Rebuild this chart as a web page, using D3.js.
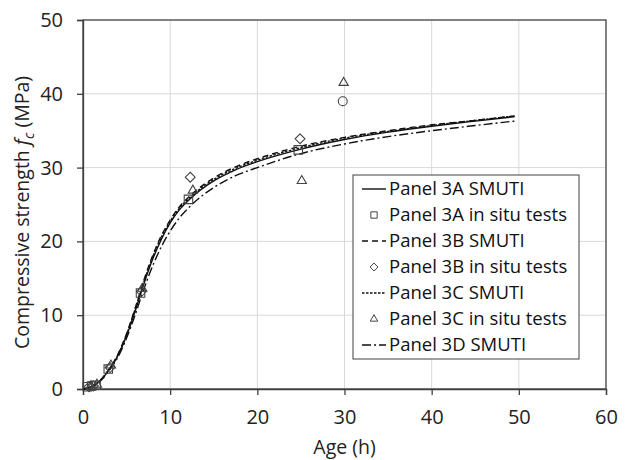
<!DOCTYPE html>
<html><head><meta charset="utf-8">
<script src="https://cdn.jsdelivr.net/npm/d3@7"></script>
<style>
html,body{margin:0;padding:0;background:#fff;}
svg{display:block;font-family:"Open Sans",sans-serif;}
</style></head>
<body><svg id="chart" width="627" height="460"></svg>
<script>
// ---- data ----
const xTicks = [0, 10, 20, 30, 40, 50, 60];
const yTicks = [0, 10, 20, 30, 40, 50];

const panel3A_smuti = [[0,0],[0.5,0.1],[1,0.35],[1.5,0.7],[2,1.2],[3,2.6],[4,4.5],[5,7.2],[6,10.6],[7,14.3],[8,17.6],[9,20.3],[10,22.5],[11,24.2],[12.5,26.0],[15,28.2],[17.5,29.7],[20,30.8],[25,32.5],[30,33.8],[35,34.8],[40,35.6],[45,36.3],[49.5,36.9]];
const panel3B_smuti = [[0,0],[0.5,0.1],[1,0.35],[1.5,0.7],[2,1.2],[3,2.7],[4,4.7],[5,7.5],[6,11.0],[7,14.8],[8,18.1],[9,20.8],[10,22.9],[11,24.6],[12.5,26.4],[15,28.6],[17.5,30.1],[20,31.2],[25,32.9],[30,34.1],[35,35.0],[40,35.8],[45,36.4],[49.5,37.0]];
const panel3C_smuti = [[0,0],[0.5,0.1],[1,0.35],[1.5,0.7],[2,1.2],[3,2.7],[4,4.6],[5,7.4],[6,10.9],[7,14.6],[8,17.9],[9,20.6],[10,22.7],[11,24.4],[12.5,26.2],[15,28.4],[17.5,29.9],[20,31.0],[25,32.7],[30,34.0],[35,34.9],[40,35.7],[45,36.4],[49.5,37.0]];
const panel3D_smuti = [[0,0],[0.5,0.1],[1,0.3],[1.5,0.6],[2,1.1],[3,2.5],[4,4.3],[5,6.9],[6,10.1],[7,13.6],[8,16.7],[9,19.3],[10,21.4],[11,23.1],[12.5,25.0],[15,27.3],[17.5,28.9],[20,30.0],[25,31.9],[30,33.2],[35,34.2],[40,35.0],[45,35.7],[49.5,36.3]];

const panel3A_insitu = [[0.5,0.3],[1,0.4],[1.5,0.5],[2.9,2.7],[6.6,13.0],[12.1,25.7],[24.7,32.4]];
const panel3B_insitu = [[0.7,0.3],[1.2,0.4],[3.1,2.9],[6.7,13.2],[12.3,28.7],[24.9,33.9]];
const panel3C_insitu = [[0.9,0.4],[1.6,0.6],[3.2,3.2],[6.8,13.6],[12.6,26.9],[25.1,28.2],[29.9,41.5]];
const panel3D_insitu = [[29.8,39.0]];

const lineSeries = [
  {name:"Panel 3A SMUTI", data:panel3A_smuti, dash:null},
  {name:"Panel 3B SMUTI", data:panel3B_smuti, dash:"6,4"},
  {name:"Panel 3C SMUTI", data:panel3C_smuti, dash:"2.5,1.5"},
  {name:"Panel 3D SMUTI", data:panel3D_smuti, dash:"9,3,2,3"}
];
const pointSeries = [
  {name:"Panel 3A in situ tests", data:panel3A_insitu, symbol:d3.symbolSquare},
  {name:"Panel 3B in situ tests", data:panel3B_insitu, symbol:d3.symbolDiamond2},
  {name:"Panel 3C in situ tests", data:panel3C_insitu, symbol:d3.symbolTriangle2},
  {name:"Panel 3D in situ tests", data:panel3D_insitu, symbol:d3.symbolCircle}
];
const legendItems = [
  {type:"line", s:lineSeries[0]},
  {type:"point", s:pointSeries[0]},
  {type:"line", s:lineSeries[1]},
  {type:"point", s:pointSeries[1]},
  {type:"line", s:lineSeries[2]},
  {type:"point", s:pointSeries[2]},
  {type:"line", s:lineSeries[3]}
];

// ---- layout ----
const svg = d3.select("#chart");
const L = 83, R = 606, T = 20, B = 389;
const x = d3.scaleLinear().domain([0,60]).range([L,R]);
const y = d3.scaleLinear().domain([0,50]).range([B,T]);

// grid
const grid = svg.append("g");
grid.selectAll(".gx").data(xTicks.slice(1,-1)).join("line")
  .attr("x1",d=>x(d)).attr("x2",d=>x(d)).attr("y1",T).attr("y2",B)
  .attr("stroke","#d9d9d9").attr("stroke-width",1);
grid.selectAll(".gy").data(yTicks.slice(1,-1)).join("line")
  .attr("x1",L).attr("x2",R).attr("y1",d=>y(d)).attr("y2",d=>y(d))
  .attr("stroke","#d9d9d9").attr("stroke-width",1);

// frame
svg.append("rect").attr("x",L).attr("y",T).attr("width",R-L).attr("height",B-T)
  .attr("fill","none").attr("stroke","#404040").attr("stroke-width",1.3);

// axes
const xAxis = svg.append("g").attr("transform",`translate(0,${B})`)
  .call(d3.axisBottom(x).tickValues(xTicks).tickSize(6).tickPadding(15).tickFormat(d3.format("d")));
const yAxis = svg.append("g").attr("transform",`translate(${L},0)`)
  .call(d3.axisLeft(y).tickValues(yTicks).tickSize(6).tickPadding(14).tickFormat(d3.format("d")));
[xAxis,yAxis].forEach(a=>{
  a.select(".domain").attr("stroke","#404040").attr("stroke-width",1.3);
  a.selectAll(".tick line").attr("stroke","#404040").attr("stroke-width",1.3);
  a.selectAll("text").attr("font-family","'Open Sans',sans-serif").attr("font-size",20).attr("fill","#222");
});

// curves
const line = d3.line().x(d=>x(d[0])).y(d=>y(d[1])).curve(d3.curveMonotoneX);
svg.append("g").selectAll("path").data(lineSeries).join("path")
  .attr("d",d=>line(d.data)).attr("fill","none").attr("stroke","#111")
  .attr("stroke-width",1.4).attr("stroke-dasharray",d=>d.dash);

// markers
pointSeries.forEach(s=>{
  svg.append("g").selectAll("path").data(s.data).join("path")
    .attr("transform",d=>`translate(${x(d[0])},${y(d[1])})`)
    .attr("d",d3.symbol().type(s.symbol).size(s.symbol===d3.symbolSquare?72:62))
    .attr("fill","none").attr("stroke","#444").attr("stroke-width",1.1);
});

// axis titles
svg.append("text").attr("x",(L+R)/2).attr("y",454).attr("text-anchor","middle")
  .attr("font-size",19.5).attr("fill","#222").text("Age (h)");
const yt = svg.append("text").attr("transform",`translate(29,${(T+B)/2 + 8}) rotate(-90)`)
  .attr("text-anchor","middle").attr("font-size",19.5).attr("fill","#222");
yt.append("tspan").text("Compressive strength ");
yt.append("tspan").attr("font-style","italic").text("f");
yt.append("tspan").attr("font-style","italic").attr("font-size",14).attr("dy",5).text("c");
yt.append("tspan").attr("dy",-5).text(" (MPa)");

// legend
const lg = svg.append("g");
lg.append("rect").attr("x",353).attr("y",175).attr("width",226).attr("height",184)
  .attr("fill","#fff").attr("stroke","#404040").attr("stroke-width",1);
const rowY = i => 189 + i*26;
legendItems.forEach((it,i)=>{
  const cy = rowY(i);
  if(it.type==="line"){
    lg.append("line").attr("x1",362).attr("x2",386).attr("y1",cy).attr("y2",cy)
      .attr("stroke","#111").attr("stroke-width",1.4).attr("stroke-dasharray",it.s.dash);
  } else {
    lg.append("path").attr("transform",`translate(374,${cy})`)
      .attr("d",d3.symbol().type(it.s.symbol).size(40))
      .attr("fill","none").attr("stroke","#444").attr("stroke-width",1);
  }
  lg.append("text").attr("x",389).attr("y",cy).attr("dy","0.35em")
    .attr("font-size",18.5).attr("fill","#111").text(it.s.name);
});
</script></body></html>
